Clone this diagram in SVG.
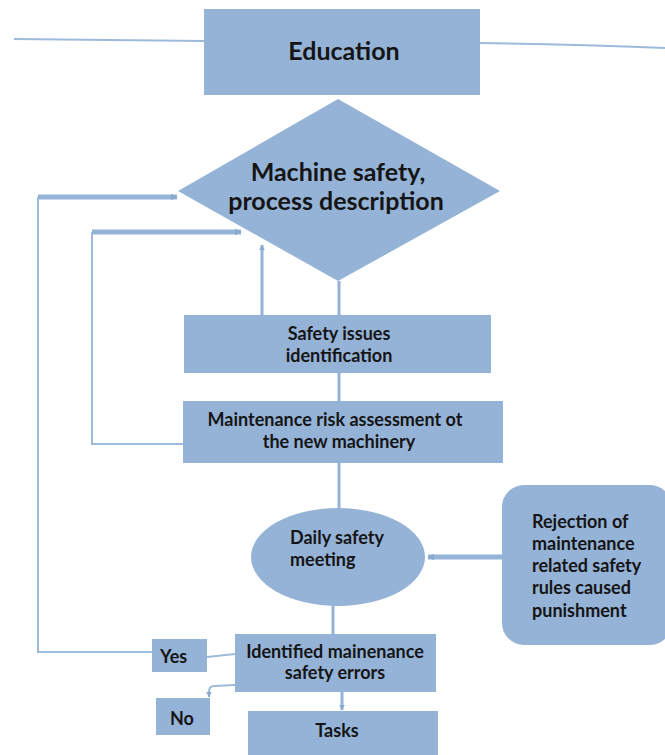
<svg xmlns="http://www.w3.org/2000/svg" width="665" height="755" viewBox="0 0 665 755">
<defs>
<style>
.node{fill:#95b3d7;}
.t{font-family:Lato,"Open Sans","Liberation Sans",sans-serif;font-weight:bold;fill:#151515;}
.big{font-size:25px;}
.mid{font-size:18px;}
.c{text-anchor:middle;}
.ln{fill:none;stroke:#95b3d7;stroke-width:3;}
.thin{fill:none;stroke:#9dbadb;stroke-width:2;}
.thick{fill:none;stroke:#95b3d7;stroke-width:5;}
</style>
<marker id="ah" viewBox="0 0 10 10" refX="9" refY="5" markerWidth="7" markerHeight="9" markerUnits="userSpaceOnUse" orient="auto">
<path d="M0,0 L10,5 L0,10 z" fill="#8aa9d0"/>
</marker>
<marker id="as" viewBox="0 0 10 10" refX="9" refY="5" markerWidth="6" markerHeight="6" markerUnits="userSpaceOnUse" orient="auto">
<path d="M0,0 L10,5 L0,10 z" fill="#8aa9d0"/>
</marker>
</defs>
<rect width="665" height="755" fill="#ffffff"/>
<g id="connectors">
<path class="thin" d="M14,39 Q110,40 204,41"/>
<path class="thin" d="M480,43 Q570,44 665,48"/>
<line class="ln" x1="339" y1="281" x2="339" y2="316"/>
<line class="ln" x1="339" y1="373" x2="339" y2="401"/>
<line class="ln" x1="339" y1="463" x2="339" y2="508"/>
<line class="ln" x1="333" y1="605" x2="333" y2="634"/>
<line class="ln" x1="342" y1="692" x2="342" y2="710" marker-end="url(#as)"/>
<line class="ln" x1="262" y1="316" x2="262" y2="245" marker-end="url(#as)"/>
<path class="thin" d="M183,444 L92,444 L92,232"/>
<line class="thick" x1="92" y1="232" x2="241" y2="232" marker-end="url(#ah)"/>
<path class="thin" d="M152,652 L38,652 L38,197"/>
<line class="thick" x1="38" y1="197" x2="177" y2="197" marker-end="url(#ah)"/>
<path class="thin" d="M207,657 L235,654"/>
<path class="thin" d="M235,685 L214,686 Q209,686 209,692 L209,697" marker-end="url(#as)"/>
<line class="thick" x1="502" y1="557" x2="428" y2="557" marker-end="url(#ah)"/>
</g>
<g id="education">
<rect class="node" x="204" y="9" width="276" height="86"/>
<text class="t big c" x="344" y="60">Education</text>
</g>
<g id="machine-safety">
<polygon class="node" points="338,99 500,191 338,281 178,191"/>
<text class="t big c" x="338" y="181">Machine safety,</text>
<text class="t big c" x="336" y="210">process description</text>
</g>
<g id="safety-issues">
<rect class="node" x="184" y="315" width="307" height="58"/>
<text class="t mid c" x="339" y="340">Safety issues</text>
<text class="t mid c" x="339" y="362">identification</text>
</g>
<g id="risk-assessment">
<rect class="node" x="183" y="401" width="320" height="62"/>
<text class="t mid c" x="335" y="426">Maintenance risk assessment ot</text>
<text class="t mid c" x="339" y="448">the new machinery</text>
</g>
<g id="daily-meeting">
<ellipse class="node" cx="338" cy="557" rx="87" ry="49"/>
<text class="t mid" x="290" y="544">Daily safety</text>
<text class="t mid" x="290" y="566">meeting</text>
</g>
<g id="rejection">
<rect class="node" x="502" y="485" width="170" height="160" rx="22" ry="22"/>
<text class="t mid" x="532" y="528">Rejection of</text>
<text class="t mid" x="532" y="550">maintenance</text>
<text class="t mid" x="532" y="572">related safety</text>
<text class="t mid" x="532" y="594">rules caused</text>
<text class="t mid" x="532" y="617">punishment</text>
</g>
<g id="identified-errors">
<rect class="node" x="235" y="634" width="201" height="58"/>
<text class="t mid c" x="335" y="658">Identified mainenance</text>
<text class="t mid c" x="335" y="679">safety errors</text>
</g>
<g id="yes">
<rect class="node" x="152" y="639" width="55" height="33"/>
<text class="t mid" x="160" y="663">Yes</text>
</g>
<g id="no">
<rect class="node" x="156" y="698" width="54" height="37"/>
<text class="t mid" x="170" y="725">No</text>
</g>
<g id="tasks">
<rect class="node" x="248" y="711" width="190" height="44"/>
<text class="t mid c" x="337" y="737">Tasks</text>
</g>
</svg>
